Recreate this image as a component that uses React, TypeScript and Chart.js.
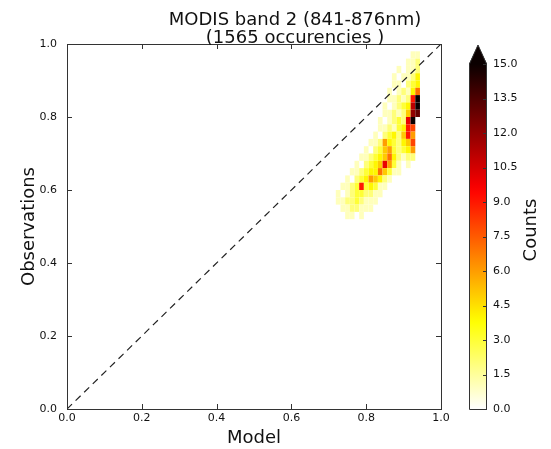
import React, { useEffect, useRef } from 'react';
import { Chart, registerables } from 'chart.js';
Chart.register(...registerables);

// ---- data (2D histogram of Model vs Observations) ----
const binW = 0.0125; // bin width in Model units
const binH = 0.02; // bin height in Observation units
const colOrigin = 0.70; // centre of column index 0
const rowY = [0.97, 0.95, 0.93, 0.91, 0.89, 0.87, 0.85, 0.83, 0.81, 0.79, 0.77, 0.75,
  0.73, 0.71, 0.69, 0.67, 0.65, 0.63, 0.61, 0.59, 0.57, 0.55, 0.53];
const rowStartCol = [18, 17, 15, 14, 14, 13, 13, 12, 12, 11, 11, 10, 9, 8, 7, 6, 5, 4, 3, 2, 2, 3, 4];
const rowCounts = [
  [1, 1],
  [1, 1, 2],
  [1, 0, 1, 1, 2],
  [1, 0, 1, 1, 2, 4],
  [1, 1, 0, 2, 3, 4],
  [1, 0, 1, 2, 1, 4, 7],
  [1, 1, 2, 1, 2, 9, 15],
  [1, 0, 1, 2, 3, 4, 11, 15],
  [1, 1, 2, 1, 2, 5, 12, 13],
  [1, 0, 1, 2, 3, 2, 10, 15],
  [1, 1, 2, 1, 3, 4, 9, 8],
  [1, 0, 2, 3, 4, 2, 5, 9, 6],
  [1, 1, 2, 6, 4, 3, 2, 4, 5, 8],
  [1, 0, 2, 3, 5, 6, 3, 2, 3, 4, 6],
  [1, 1, 2, 3, 4, 5, 7, 4, 2, 1, 2, 2],
  [1, 0, 2, 3, 4, 5, 10, 6, 3, 1, 0, 1],
  [1, 1, 2, 3, 4, 4, 7, 5, 3, 1, 1],
  [1, 0, 2, 3, 4, 6, 5, 4, 2, 1],
  [1, 1, 2, 3, 9, 3, 4, 3, 1, 1],
  [1, 0, 1, 2, 3, 3, 2, 2, 1, 1],
  [1, 1, 2, 2, 3, 2, 1, 1, 1],
  [1, 1, 2, 2, 1, 1, 1],
  [1, 1, 0, 1],
];
const axisTicks = [0, 0.2, 0.4, 0.6, 0.8, 1.0];
const countMax = 15;
const countStep = 1.5;
const titleLines = ['MODIS band 2 (841-876nm)', '(1565 occurencies )'];
const xLabel = 'Model';
const yLabel = 'Observations';
const cbLabel = 'Counts';

const FONT = "'DejaVu Sans', 'Liberation Sans', sans-serif";

function hotR(t: number): string {
  const v = 1 - Math.min(Math.max(t, 0), 1);
  const r = Math.min(1, 0.0416 + v * (1 - 0.0416) / 0.365);
  const g = Math.min(1, Math.max(0, (v - 0.365) / 0.381));
  const b = Math.min(1, Math.max(0, (v - 0.746) / 0.254));
  return `rgb(${Math.round(r * 255)},${Math.round(g * 255)},${Math.round(b * 255)})`;
}

function buildCells() {
  const pts: { x: number; y: number; c: number }[] = [];
  rowY.forEach((y, r) => {
    rowCounts[r].forEach((c, k) => {
      if (c > 0) pts.push({ x: colOrigin + (rowStartCol[r] + k) * binW, y, c });
    });
  });
  return pts;
}

export default function App() {
  const mainRef = useRef<HTMLCanvasElement>(null);
  const cbRef = useRef<HTMLCanvasElement>(null);

  useEffect(() => {
    document.body.style.margin = '0';
    Chart.defaults.font.family = FONT;
    Chart.defaults.color = '#111';
    const cells = buildCells();

    const heatPlugin = {
      id: 'heat',
      beforeDatasetsDraw(chart: any) {
        const { ctx, chartArea } = chart;
        const xs = chart.scales.x;
        const ys = chart.scales.y;
        const w = Math.abs(xs.getPixelForValue(binW) - xs.getPixelForValue(0));
        const h = Math.abs(ys.getPixelForValue(binH) - ys.getPixelForValue(0));
        const meta = chart.getDatasetMeta(0);
        const data = chart.data.datasets[0].data as any[];
        ctx.save();
        ctx.beginPath();
        ctx.rect(chartArea.left, chartArea.top, chartArea.right - chartArea.left, chartArea.bottom - chartArea.top);
        ctx.clip();
        meta.data.forEach((el: any, i: number) => {
          ctx.fillStyle = hotR(data[i].c / countMax);
          ctx.fillRect(el.x - w / 2, el.y - h / 2, w, h);
        });
        ctx.restore();
      },
      afterDraw(chart: any) {
        const { ctx, chartArea } = chart;
        const { left, right, top, bottom } = chartArea;
        ctx.save();
        ctx.strokeStyle = '#333';
        ctx.lineWidth = 1;
        ctx.strokeRect(Math.round(left) + 0.5, Math.round(top) + 0.5, Math.round(right - left), Math.round(bottom - top));
        const tl = 5;
        ctx.beginPath();
        chart.scales.x.ticks.forEach((t: any) => {
          const px = Math.round(chart.scales.x.getPixelForValue(t.value)) + 0.5;
          ctx.moveTo(px, bottom); ctx.lineTo(px, bottom - tl);
          ctx.moveTo(px, top); ctx.lineTo(px, top + tl);
        });
        chart.scales.y.ticks.forEach((t: any) => {
          const py = Math.round(chart.scales.y.getPixelForValue(t.value)) + 0.5;
          ctx.moveTo(left, py); ctx.lineTo(left + tl, py);
          ctx.moveTo(right, py); ctx.lineTo(right - tl, py);
        });
        ctx.stroke();
        // title
        ctx.fillStyle = '#111';
        ctx.font = `18px ${FONT}`;
        ctx.textAlign = 'center';
        ctx.textBaseline = 'alphabetic';
        ctx.fillText(titleLines[0], 295, 25);
        ctx.fillText(titleLines[1], 295, 43);
        ctx.restore();
      },
    };

    const tickFmt = (v: any) => Number(v).toFixed(1);

    const main = new Chart(mainRef.current as HTMLCanvasElement, {
      type: 'scatter',
      data: {
        datasets: [
          { label: 'counts', data: cells as any, pointRadius: 0, pointHoverRadius: 0, order: 2 },
          {
            label: 'diag', type: 'line' as any, data: [{ x: 0, y: 0 }, { x: 1, y: 1 }],
            borderColor: '#222', borderWidth: 1.2, borderDash: [7, 5], pointRadius: 0, fill: false, order: 1,
          } as any,
        ],
      },
      options: {
        animation: false,
        responsive: false,
        maintainAspectRatio: false,
        events: [],
        layout: { padding: { left: 0, right: 110, top: 44, bottom: 0 } },
        plugins: { legend: { display: false }, tooltip: { enabled: false }, title: { display: false } },
        scales: {
          x: {
            type: 'linear', min: 0, max: 1,
            afterBuildTicks: (s: any) => { s.ticks = axisTicks.map((v) => ({ value: v })); },
            ticks: { callback: tickFmt, font: { size: 11 }, color: '#111', padding: 3, maxRotation: 0, autoSkip: false },
            grid: { display: false, drawTicks: false },
            border: { display: false },
            title: { display: true, text: xLabel, font: { size: 18, lineHeight: 1.2 }, color: '#111', padding: { top: 0, bottom: 0 } },
            afterFit: (s: any) => { s.height = 40; },
          },
          y: {
            type: 'linear', min: 0, max: 1,
            afterBuildTicks: (s: any) => { s.ticks = axisTicks.map((v) => ({ value: v })); },
            ticks: { callback: tickFmt, font: { size: 11 }, color: '#111', padding: 10, autoSkip: false },
            grid: { display: false, drawTicks: false },
            border: { display: false },
            title: { display: true, text: yLabel, font: { size: 18, lineHeight: 1.2 }, color: '#111', padding: { top: 19, bottom: 0 } },
            afterFit: (s: any) => { s.width = 67; },
          },
        },
      } as any,
      plugins: [heatPlugin],
    });

    const cbPlugin = {
      id: 'cb',
      beforeDatasetsDraw(chart: any) {
        const { ctx, chartArea } = chart;
        const { left, right, top, bottom } = chartArea;
        const ys = chart.scales.y;
        ctx.save();
        const grad = ctx.createLinearGradient(0, bottom, 0, top);
        for (let i = 0; i <= 40; i++) grad.addColorStop(i / 40, hotR(i / 40));
        ctx.fillStyle = grad;
        ctx.fillRect(left, top, right - left, bottom - top);
        const apexY = top - 19;
        const mid = (left + right) / 2;
        ctx.fillStyle = hotR(1);
        ctx.beginPath();
        ctx.moveTo(left, top); ctx.lineTo(mid, apexY); ctx.lineTo(right, top); ctx.closePath();
        ctx.fill();
        ctx.strokeStyle = '#333';
        ctx.lineWidth = 1;
        ctx.beginPath();
        ctx.moveTo(left + 0.5, bottom + 0.5);
        ctx.lineTo(left + 0.5, top);
        ctx.lineTo(mid, apexY);
        ctx.lineTo(right - 0.5, top);
        ctx.lineTo(right - 0.5, bottom + 0.5);
        ctx.closePath();
        ctx.stroke();
        ctx.beginPath();
        ys.ticks.forEach((t: any) => {
          const py = Math.round(ys.getPixelForValue(t.value)) + 0.5;
          ctx.moveTo(right, py); ctx.lineTo(right - 4, py);
        });
        ctx.stroke();
        ctx.translate(91, 230);
        ctx.rotate(-Math.PI / 2);
        ctx.fillStyle = '#111';
        ctx.font = `18px ${FONT}`;
        ctx.textAlign = 'center';
        ctx.textBaseline = 'middle';
        ctx.fillText(cbLabel, 0, 0);
        ctx.restore();
      },
    };

    const cb = new Chart(cbRef.current as HTMLCanvasElement, {
      type: 'scatter',
      data: { datasets: [{ data: [], pointRadius: 0 }] },
      options: {
        animation: false,
        responsive: false,
        maintainAspectRatio: false,
        events: [],
        layout: { padding: { left: 29, right: 0, top: 64, bottom: 40 } },
        plugins: { legend: { display: false }, tooltip: { enabled: false } },
        scales: {
          x: { type: 'linear', display: false },
          y: {
            type: 'linear', position: 'right', min: 0, max: countMax,
            ticks: { stepSize: countStep, callback: tickFmt, font: { size: 11 }, color: '#111', padding: 6, autoSkip: false },
            grid: { display: false, drawTicks: false },
            border: { display: false },
            afterFit: (s: any) => { s.width = 64; },
          },
        },
      } as any,
      plugins: [cbPlugin],
    });

    return () => { main.destroy(); cb.destroy(); };
  }, []);

  return (
    <div style={{ position: 'relative', width: 551, height: 449, background: '#fff' }}>
      <canvas ref={mainRef} width={551} height={449} style={{ position: 'absolute', left: 0, top: 0, width: 551, height: 449 }} />
      <canvas ref={cbRef} width={111} height={449} style={{ position: 'absolute', left: 440, top: 0, width: 111, height: 449 }} />
    </div>
  );
}
